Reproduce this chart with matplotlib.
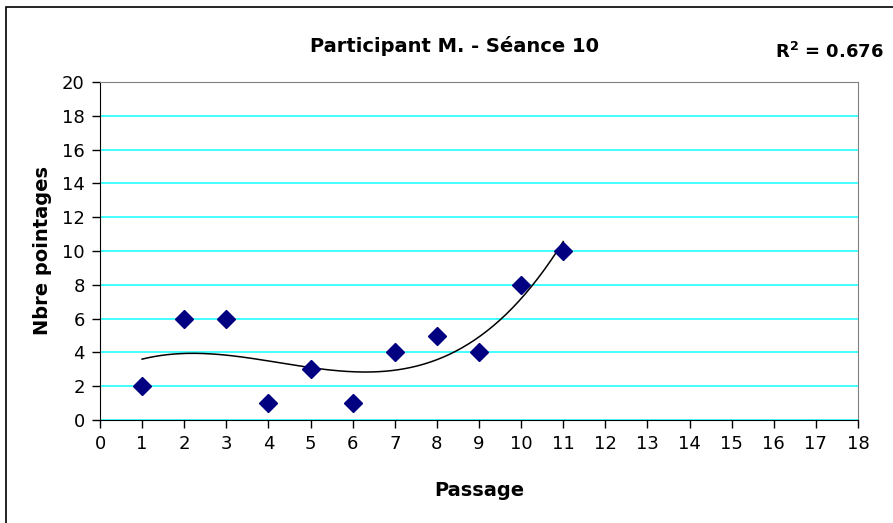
"""
Participant M. - Séance 10: nombre de pointages par passage, avec tendance polynomiale.
"""

import numpy as np
import matplotlib
matplotlib.use("Agg")
import matplotlib.pyplot as plt
from matplotlib.patches import Rectangle

# --------------------------------------------------
# DATA
# --------------------------------------------------
passages = [1, 2, 3, 4, 5, 6, 7, 8, 9, 10, 11]
pointages = [2, 6, 6, 1, 3, 1, 4, 5, 4, 8, 10]
x_ticks = list(range(0, 19))
y_ticks = list(range(0, 21, 2))

TITLE = "Participant M. - Séance 10"
R2_TEXT = "R$^2$ = 0.676"

plt.rcParams["font.family"] = ["DejaVu Sans"]
plt.rcParams["mathtext.default"] = "bf"

fig = plt.figure(figsize=(8.93, 5.23), dpi=100)
ax = fig.add_axes([100 / 893, 1 - 420 / 523, 758 / 893, 338 / 523])

# outer chart border (Excel chart area)
fig.patches.append(Rectangle((6 / 893, -0.05), 1.2, 1 - 7 / 523 + 0.05,
                             transform=fig.transFigure, fill=False,
                             edgecolor="black", linewidth=1.2))

# polynomial trend line (order 3)
coef = np.polyfit(passages, pointages, 3)
xs = np.linspace(passages[0], passages[-1], 200)
ax.plot(xs, np.polyval(coef, xs), color="black", linewidth=1.1, zorder=3)

ax.plot(passages, pointages, linestyle="none", marker="D", markersize=9,
        color="#000080", zorder=4)

ax.set_xlim(0, 18)
ax.set_ylim(0, 20)
ax.set_xticks(x_ticks)
ax.set_yticks(y_ticks)
ax.yaxis.grid(True, color="#22FFFF", linewidth=1.2)
ax.set_axisbelow(True)

for side in ["top", "right"]:
    ax.spines[side].set_color("#808080")
for side in ["left", "bottom"]:
    ax.spines[side].set_color("black")

ax.tick_params(direction="out", length=6, width=1, labelsize=13, pad=5)

ax.set_xlabel("Passage", fontsize=14, fontweight="bold", labelpad=20)
ax.set_ylabel("Nbre pointages", fontsize=14, fontweight="bold", labelpad=7)

fig.text(455 / 893, 1 - 46 / 523, TITLE, ha="center", va="center",
         fontsize=14, fontweight="bold")
fig.text(884 / 893, 1 - 52 / 523, R2_TEXT, ha="right", va="center",
         fontsize=13, fontweight="bold")

fig.savefig("out.png", dpi=100)
